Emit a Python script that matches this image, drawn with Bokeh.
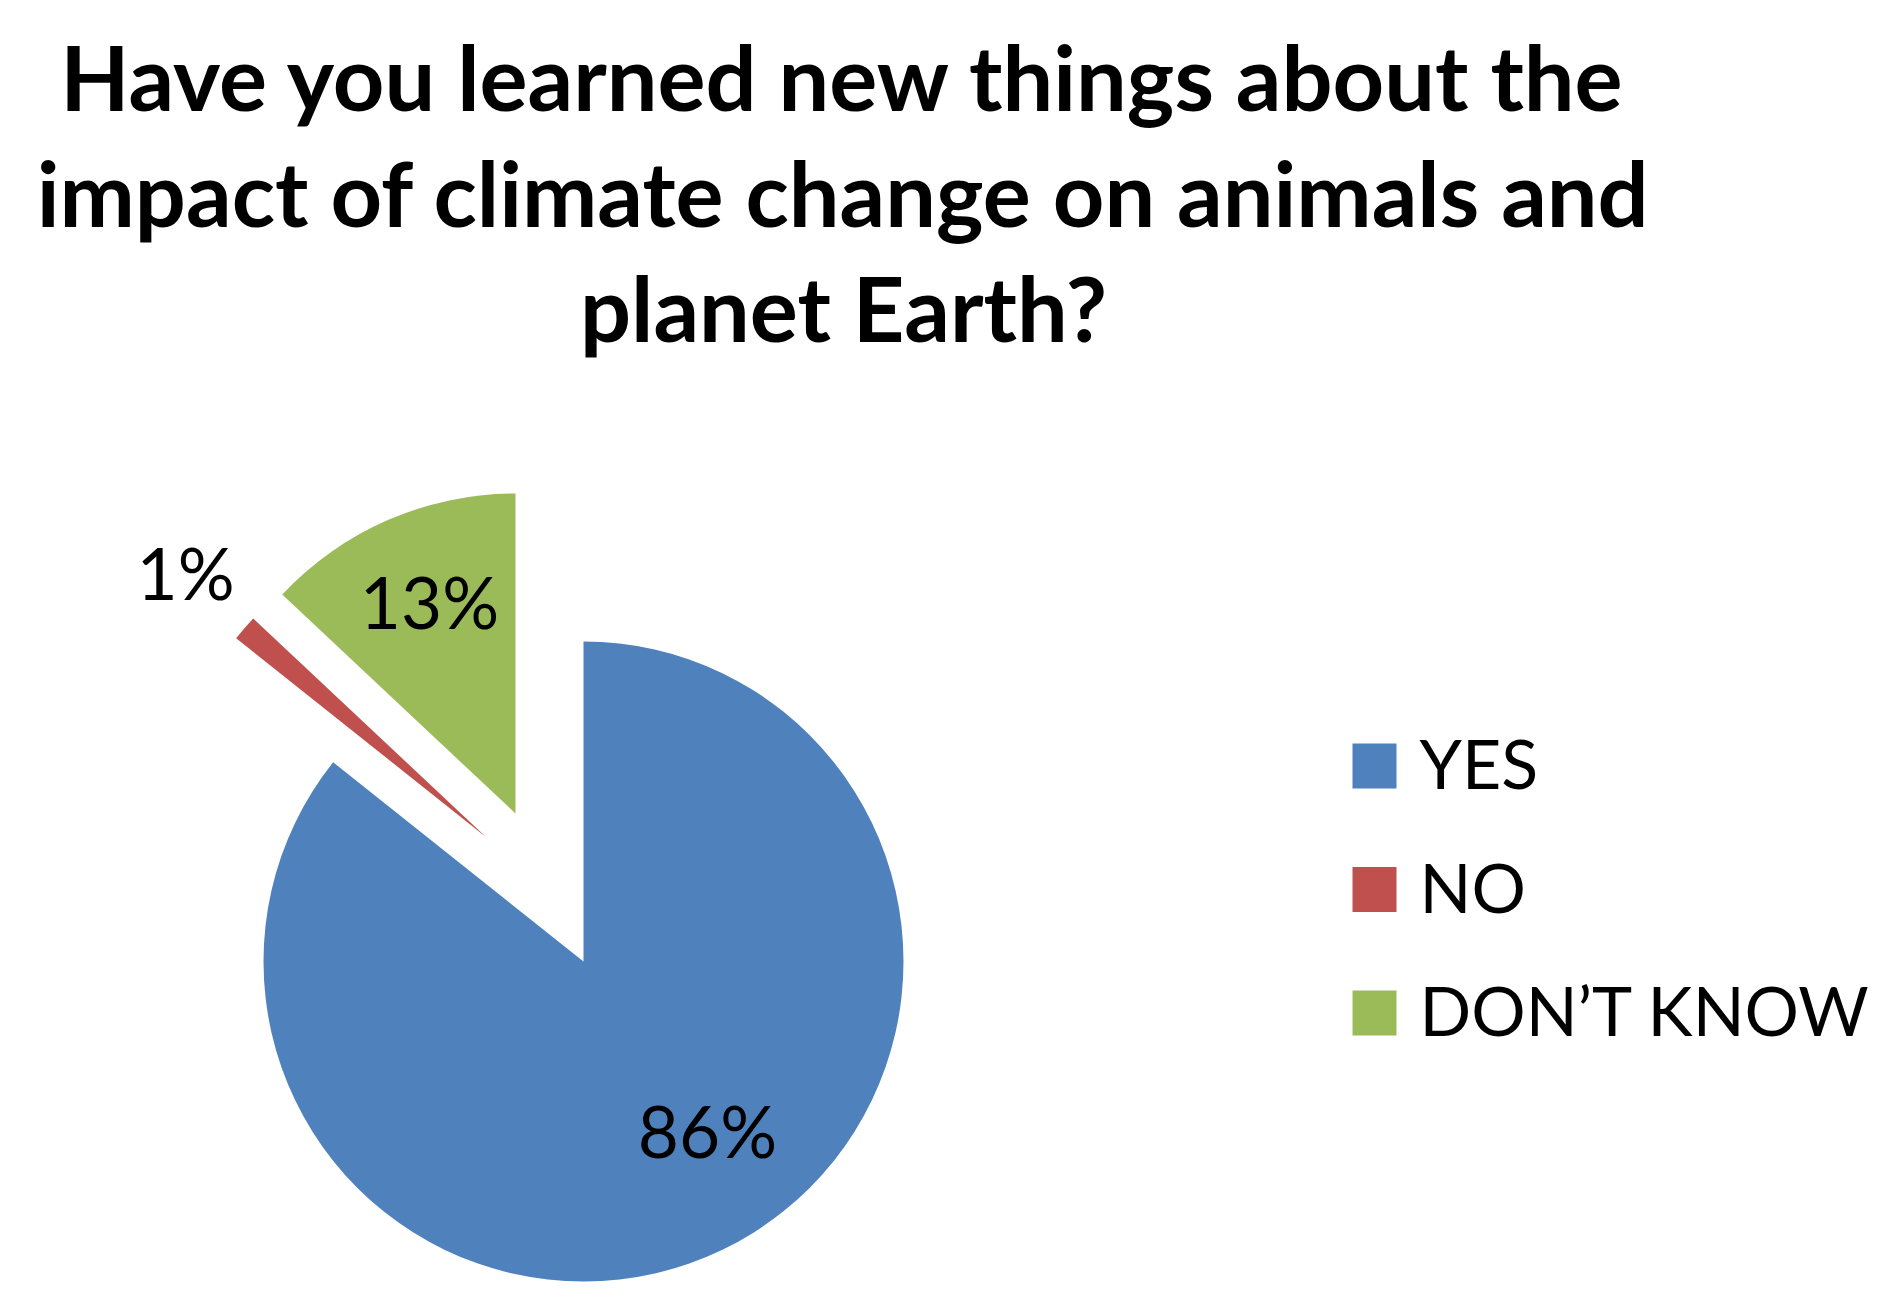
import math
from bokeh.plotting import figure
from bokeh.models import Range1d, ColumnDataSource
from bokeh.core.properties import value
from bokeh.embed import file_html
from bokeh.resources import INLINE

# ---- data ----
categories = ["YES", "NO", "DON\u2019T KNOW"]
percent = [85.7, 1.3, 13.0]          # labelled 86%, 1%, 13%
title_lines = [
    "Have you learned new things about the",
    "impact of climate change on animals and",
    "planet Earth?",
]

# ---- styles / layout (screen pixels, y measured from the top) ----
colors = ["#4F81BD", "#C0504D", "#9BBB59"]
explode = [(0, 0), (-97, 124), (-68, 148)]      # slice offsets (dx right, dy up)
label_pos = [(707, 1130), (185, 572), (429, 601)]
title_baselines = [110, 226, 341]
title_cx = 843
title_size = 90
label_size = 71
legend_size = 68
legend_sq_x, legend_sq_y0, legend_pitch = 1374, 765.5, 123.5
legend_text_x = 1419
FONT = "Lato"

W, H = 1879, 1295
PAGE_H = 1311


def sy(y):
    return PAGE_H - y


p = figure(width=W, height=H, x_range=Range1d(0, W), y_range=Range1d(PAGE_H - H, PAGE_H),
           output_backend="svg", toolbar_location=None, min_border=0)
p.axis.visible = False
p.grid.visible = False
p.outline_line_color = None
p.background_fill_color = "white"
p.border_fill_color = "white"

# ---- pie ----
cx, cy, r = 583, sy(961), 320
total = sum(percent)
start = math.pi / 2
xs, ys, starts, ends = [], [], [], []
for v, (dx, dy) in zip(percent, explode):
    sweep = 2 * math.pi * v / total
    end = start - sweep
    xs.append(cx + dx)
    ys.append(cy + dy)
    starts.append(start)
    ends.append(end)
    start = end

src = ColumnDataSource(dict(x=xs, y=ys, start=starts, end=ends, color=colors, cat=categories))
p.wedge(x="x", y="y", radius=r, radius_units="screen", start_angle="start", end_angle="end",
        direction="clock", fill_color="color", line_color=None, source=src)

# ---- data labels ----
lab = ColumnDataSource(dict(x=[q[0] for q in label_pos], y=[sy(q[1]) for q in label_pos],
                            t=[f"{v:.0f}%" for v in percent]))
p.text(x="x", y="y", text="t", source=lab, text_align="center", text_baseline="middle",
       text_font=value(FONT), text_font_size=f"{label_size}px", text_color="black")

# ---- title ----
off = 0.387 * title_size
tsrc = ColumnDataSource(dict(x=[title_cx] * len(title_lines),
                             y=[sy(b - off) for b in title_baselines], t=title_lines))
p.text(x="x", y="y", text="t", source=tsrc, text_align="center", text_baseline="middle",
       text_font=value(FONT), text_font_style="bold", text_font_size=f"{title_size}px",
       text_color="black")

# ---- legend ----
ly = [sy(legend_sq_y0 + i * legend_pitch) for i in range(len(categories))]
lsrc = ColumnDataSource(dict(x=[legend_sq_x] * len(categories), y=ly,
                             tx=[legend_text_x] * len(categories),
                             ty=[v + 3.5 for v in ly], cat=categories, color=colors))
p.rect(x="x", y="y", width=44, height=45, width_units="screen", height_units="screen",
       fill_color="color", line_color=None, source=lsrc)
p.text(x="tx", y="ty", text="cat", source=lsrc, text_align="left", text_baseline="middle",
       text_font=value(FONT), text_font_size=f"{legend_size}px", text_color="black")

open("out.html", "w").write(file_html(p, INLINE))
